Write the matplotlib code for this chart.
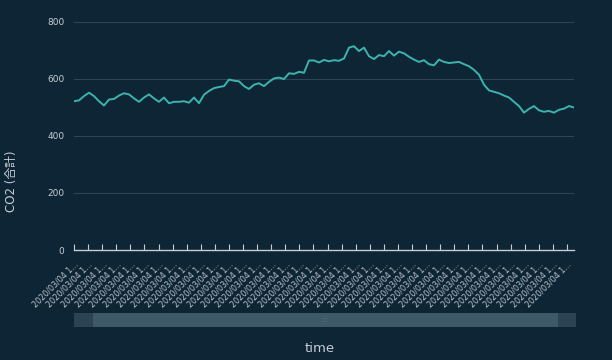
import numpy as np
import matplotlib
matplotlib.use('Agg')
import matplotlib.pyplot as plt
from matplotlib.patches import Rectangle

plt.rcParams['font.family'] = ['DejaVu Sans', 'Noto Sans CJK JP']

# CO2 values (one every ~5 px)
co2 = [522, 525, 540, 552, 540, 522, 507, 528, 530, 542,
       550, 546, 532, 520, 535, 546, 532, 520, 535, 515,
       520, 520, 522, 517, 535, 515, 545, 558, 568, 572,
       575, 598, 594, 592, 575, 565, 580, 585, 575, 590,
       602, 605, 600, 620, 618, 625, 622, 665, 665, 658,
       667, 662, 666, 664, 672, 710, 715, 698, 710, 680,
       670, 684, 680, 698, 682, 696, 690, 678, 668, 660,
       666, 652, 648, 668, 660, 656, 658, 660, 652, 645,
       632, 615, 580, 560, 555, 550, 542, 535, 520, 505,
       482, 495, 505, 490, 485, 488, 482, 492, 496, 505,
       500]
n_labels = 36
time_labels = ['2020/03/04 1...'] * n_labels
y_ticks = [0, 200, 400, 600, 800]

bg = '#0e2536'
fg = '#c5ced6'

fig = plt.figure(figsize=(6.12, 3.6), dpi=100, facecolor=bg)
ax = fig.add_axes([74/612, 1 - 250/360, 500/612, 228/360], facecolor=bg)

x = np.arange(len(co2))
ax.plot(x, co2, color='#3db3ae', lw=1.4)

ax.set_xlim(0, len(co2) - 1)
ax.set_ylim(0, 800)
ax.set_yticks(y_ticks)
ax.set_yticklabels([str(v) for v in y_ticks], color=fg, fontsize=6.5)
for v in y_ticks[1:]:
    ax.axhline(v, color='#2e4757', lw=0.7, zorder=0)

tick_pos = np.linspace(0, 98.6, n_labels)
ax.set_xticks(tick_pos)
ax.set_xticklabels(time_labels, rotation=45, ha='right', rotation_mode='anchor',
                   fontsize=5.8, color='#b9c3cc')
ax.tick_params(axis='x', direction='in', length=4, width=0.8, color=fg, pad=7)
ax.tick_params(axis='y', length=0, pad=7)

for s in ['top', 'right', 'left']:
    ax.spines[s].set_visible(False)
ax.spines['bottom'].set_color(fg)
ax.spines['bottom'].set_linewidth(1)

fig.text(12/612, 1 - 181/360, 'CO2 (合計)', rotation=90, color=fg, fontsize=8.5,
         ha='center', va='center')
fig.text(320/612, 1 - 348/360, 'time', color=fg, fontsize=9.5, ha='center', va='center')

# data zoom slider
sy, sh = 1 - 327/360, 14/360
fig.add_artist(Rectangle((74/612, sy), 502/612, sh, transform=fig.transFigure,
                         facecolor='#3e5968', edgecolor='none'))
fig.add_artist(Rectangle((74/612, sy), 19/612, sh, transform=fig.transFigure,
                         facecolor='#2b4352', edgecolor='none'))
fig.add_artist(Rectangle((558/612, sy), 18/612, sh, transform=fig.transFigure,
                         facecolor='#2b4352', edgecolor='none'))
fig.text(325/612, sy + sh/2, ':::', color='#5c7685', fontsize=5, ha='center', va='center')

fig.savefig('out.png', facecolor=bg)
